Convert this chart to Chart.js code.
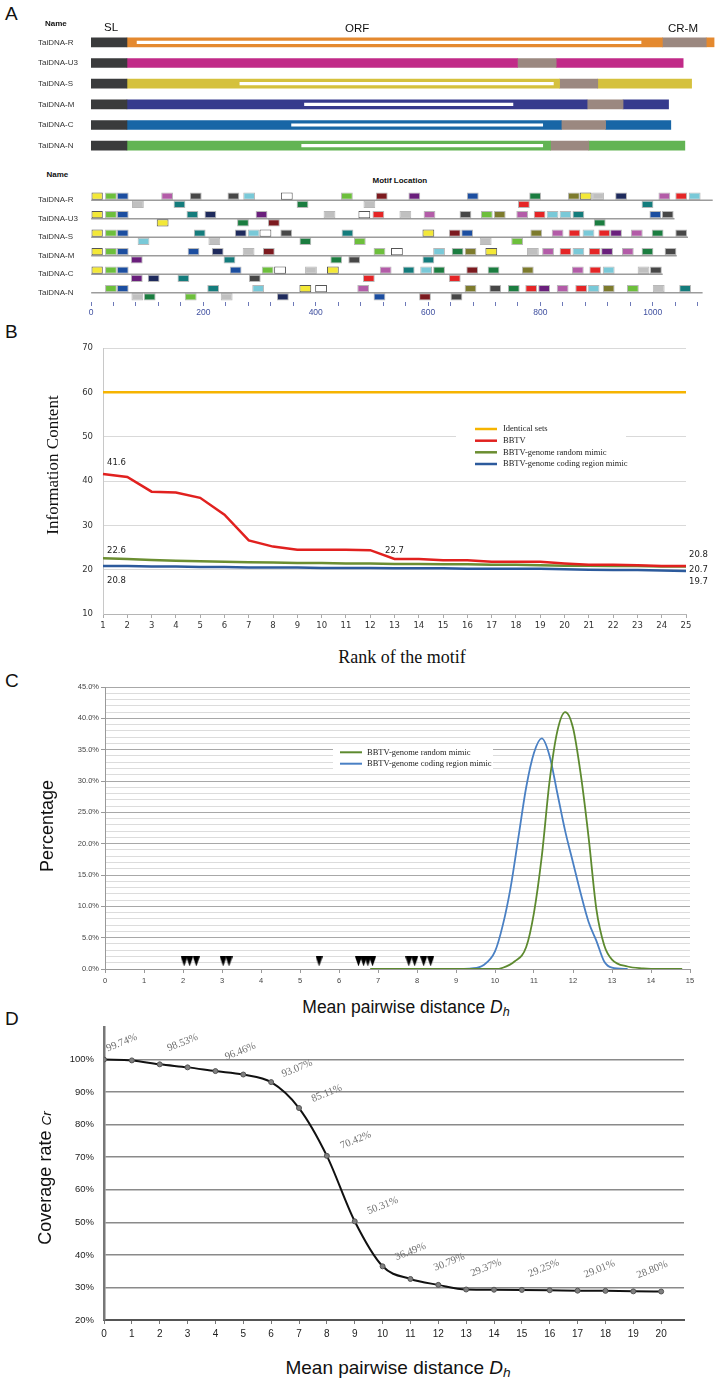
<!DOCTYPE html>
<html>
<head>
<meta charset="utf-8">
<script src="https://cdn.jsdelivr.net/npm/chart.js@4.4.0/dist/chart.umd.min.js"></script>
<style>
  body { margin: 0; background: #fff; }
  #page { position: relative; width: 718px; height: 1380px; overflow: hidden; background: #fff; font-family: "Liberation Sans", Arial, sans-serif; color: #111; }
  #page canvas { position: absolute; }
  .t { position: absolute; white-space: nowrap; line-height: 1; }
</style>
</head>
<body>
<div id="page">
  <canvas id="orfChart" width="680" height="124" style="left:38px;top:32px"></canvas>
  <canvas id="motifChart" width="680" height="131" style="left:38px;top:191px"></canvas>
  <canvas id="icChart" width="659" height="300" style="left:59px;top:338px"></canvas>
  <canvas id="distChart" width="663" height="307" style="left:55px;top:680px"></canvas>
  <canvas id="coverChart" width="664" height="322" style="left:54px;top:1020px"></canvas>
</div>
<script>
  // ---- Panel A: genome maps (positions in nt) ----
  const genomes = ['TaiDNA-R', 'TaiDNA-U3', 'TaiDNA-S', 'TaiDNA-M', 'TaiDNA-C', 'TaiDNA-N'];
  const slRange = [0, 64];
  const crmStart = [1017, 759, 834, 883, 837, 818];
  const crmEnd = [1095, 828, 902, 947, 916, 886];
  const genomeEnd = [1109, 1054, 1069, 1028, 1032, 1057];
  const innerStart = [82, null, 265, 380, 357, 375];
  const innerEnd = [979, null, 823, 751, 804, 804];
  const genomeColors = ['#e4892f', '#c12a88', '#d5c13d', '#363a8d', '#1866a6', '#62b453'];

  // motif boxes: [start nt, colour code], above / below the line
  const motifLen = 21;
  const motifLineEnd = [1106, 1038, 1062, 1042, 1017, 1088];
  const motifsUp = [
    [[0,'Y'],[25,'G'],[46,'B'],[125,'M'],[176,'K'],[243,'K'],[271,'L'],[338,'W'],[445,'G'],[507,'R'],[565,'P'],[669,'B'],[780,'D'],[849,'O'],[870,'Y'],[892,'A'],[933,'N'],[1010,'M'],[1040,'E'],[1064,'L']],
    [[0,'Y'],[25,'G'],[46,'B'],[170,'T'],[202,'N'],[293,'P'],[414,'A'],[476,'W'],[501,'E'],[549,'A'],[592,'M'],[656,'K'],[694,'G'],[717,'O'],[757,'M'],[788,'E'],[811,'L'],[834,'L'],[857,'T'],[994,'B'],[1016,'K']],
    [[0,'Y'],[25,'G'],[46,'B'],[183,'T'],[256,'N'],[279,'L'],[300,'W'],[337,'K'],[446,'T'],[590,'Y'],[637,'R'],[659,'B'],[782,'O'],[820,'M'],[850,'E'],[875,'L'],[903,'E'],[924,'P'],[961,'M'],[998,'D'],[1040,'K']],
    [[0,'Y'],[25,'G'],[46,'B'],[172,'B'],[215,'N'],[270,'A'],[306,'R'],[503,'G'],[534,'W'],[609,'L'],[642,'D'],[665,'O'],[702,'Y'],[776,'A'],[803,'M'],[834,'E'],[857,'L'],[886,'E'],[908,'P'],[945,'M'],[980,'D'],[1021,'K']],
    [[0,'Y'],[25,'G'],[46,'B'],[247,'B'],[304,'G'],[326,'W'],[381,'A'],[420,'Y'],[514,'M'],[555,'T'],[586,'L'],[609,'D'],[668,'R'],[706,'D'],[767,'O'],[856,'M'],[887,'E'],[911,'L'],[973,'A'],[995,'K']],
    [[25,'G'],[46,'B'],[207,'T'],[287,'L'],[371,'Y'],[399,'W'],[474,'M'],[665,'O'],[709,'K'],[742,'D'],[773,'E'],[796,'P'],[829,'M'],[862,'E'],[884,'L'],[911,'O'],[954,'G'],[1000,'A'],[1047,'T']]
  ];
  const motifsDown = [
    [[73,'A'],[147,'T'],[366,'D'],[485,'A'],[760,'E'],[980,'T']],
    [[117,'Y'],[260,'D'],[315,'R'],[895,'D']],
    [[83,'L'],[209,'A'],[371,'D'],[468,'G'],[692,'A'],[748,'G']],
    [[71,'P'],[236,'T'],[426,'D'],[458,'K'],[590,'T']],
    [[71,'P'],[101,'N'],[154,'T'],[281,'K'],[484,'E'],[637,'E']],
    [[72,'A'],[94,'D'],[167,'G'],[231,'A'],[331,'N'],[503,'B'],[584,'R'],[640,'K']]
  ];
  const motifColors = {
    Y: '#f3e837', G: '#6dbf3c', B: '#1c4ea0', M: '#b35ca8', K: '#474747', L: '#79c9d8', W: '#ffffff',
    D: '#1b7d40', T: '#147c7c', A: '#c0c0c0', P: '#6a1f7c', N: '#1e2a5c', R: '#7c1a1f', E: '#e52526', O: '#7d7b2d'
  };

  // ---- Panel B: information content by motif rank ----
  const ranks = ['1','2','3','4','5','6','7','8','9','10','11','12','13','14','15','16','17','18','19','20','21','22','23','24','25'];
  const identicalIC = [60,60,60,60,60,60,60,60,60,60,60,60,60,60,60,60,60,60,60,60,60,60,60,60,60];
  const bbtvIC = [41.6, 40.9, 37.6, 37.4, 36.2, 32.4, 26.6, 25.2, 24.5, 24.5, 24.5, 24.4, 22.4, 22.4, 22.1, 22.1, 21.8, 21.8, 21.8, 21.4, 21.1, 21.1, 21.0, 20.8, 20.8];
  const randomIC = [22.6, 22.4, 22.2, 22.0, 21.9, 21.8, 21.7, 21.6, 21.5, 21.5, 21.4, 21.4, 21.3, 21.3, 21.2, 21.2, 21.1, 21.1, 21.0, 20.9, 20.9, 20.8, 20.8, 20.7, 20.7];
  const codingIC = [20.8, 20.8, 20.7, 20.7, 20.6, 20.6, 20.5, 20.5, 20.5, 20.4, 20.4, 20.4, 20.3, 20.3, 20.3, 20.2, 20.2, 20.2, 20.2, 20.1, 20.0, 19.9, 19.9, 19.8, 19.7];
  const icSeriesNames = ['Identical sets', 'BBTV', 'BBTV-genome random mimic', 'BBTV-genome coding region mimic'];
  const icColors = ['#f6b400', '#e1211f', '#6b8e31', '#2c5a9c'];

  // ---- Panel C: distribution of mean pairwise distance ----
  const randomDh = [6.8, 9, 10, 10.2, 10.5, 10.8, 11, 11.2, 11.4, 11.6, 11.8, 12, 12.2, 12.4, 12.6, 12.8, 13, 13.4, 13.8, 14.2, 14.8];
  const randomPct = [0, 0, 0, 0.2, 1.2, 3.5, 9, 18, 30, 38, 41, 38.5, 31, 21, 9.5, 3.8, 1.5, 0.4, 0.1, 0, 0];
  const codingDh = [9, 9.4, 9.7, 10, 10.2, 10.4, 10.6, 10.8, 11, 11.2, 11.4, 11.6, 11.8, 12, 12.2, 12.4, 12.6, 12.8, 13, 13.4];
  const codingPct = [0, 0.1, 0.6, 2.8, 7, 13, 21, 29, 34.5, 36.8, 34, 28, 22, 17, 12, 7.5, 4.5, 1.2, 0.2, 0];
  const observedDh = [2.03, 2.17, 2.34, 3.03, 3.18, 5.49, 6.5, 6.63, 6.74, 6.86, 7.79, 7.94, 8.17, 8.35];
  const markerLevel = 1.2;

  // ---- Panel D: coverage rate ----
  const distance = [0,1,2,3,4,5,6,7,8,9,10,11,12,13,14,15,16,17,18,19,20];
  const coverage = [100, 99.74, 98.53, 97.6, 96.46, 95.4, 93.07, 85.11, 70.42, 50.31, 36.49, 32.6, 30.79, 29.37, 29.3, 29.25, 29.15, 29.01, 28.95, 28.80, 28.75];
  const labelledPoints = [1, 2, 4, 6, 7, 8, 9, 10, 12, 13, 15, 17, 19];
  const labelNudge = [[-24,-9],[9,-13],[11,-11],[12,-5],[14,-6],[15,-7],[14,-7],[14,-6],[-3,-14],[6,-13],[8,-13],[8,-13],[5,-13]];

  // ---------------- page text ----------------
  const page = document.getElementById('page');
  function txt(html, x, base, size, o) {
    o = o || {};
    const d = document.createElement('div');
    d.className = 't';
    d.innerHTML = html;
    d.style.fontSize = size + 'px';
    if (o.family) d.style.fontFamily = o.family;
    if (o.bold) d.style.fontWeight = 'bold';
    d.style.top = (base - 0.84 * size) + 'px';
    d.style.left = x + 'px';
    if (o.center) d.style.transform = 'translateX(-50%)';
    page.appendChild(d);
  }
  function vtxt(html, cx, cy, size, family) {
    const d = document.createElement('div');
    d.className = 't';
    d.innerHTML = html;
    d.style.fontSize = size + 'px';
    if (family) d.style.fontFamily = family;
    d.style.left = cx + 'px';
    d.style.top = cy + 'px';
    d.style.transform = 'translate(-50%,-50%) rotate(-90deg)';
    page.appendChild(d);
  }
  const serif = '"Liberation Serif", "Times New Roman", serif';
  txt('A', 5, 20, 19);
  txt('Name', 45, 26.5, 8, { bold: true });
  txt('SL', 104, 32, 11.5);
  txt('ORF', 345, 33, 11.5);
  txt('CR-M', 668, 33, 11.5);
  txt('Name', 46.5, 178, 8, { bold: true });
  txt('Motif Location', 372.5, 184, 8, { bold: true });
  txt('B', 5, 338, 19);
  vtxt('Information Content', 52, 465, 17, serif);
  txt('Rank of the motif', 402, 663, 18, { family: serif, center: true });
  txt('C', 5, 687, 19);
  vtxt('Percentage', 47, 826, 18);
  txt('Mean pairwise distance <i>D</i><i style="font-size:0.72em;position:relative;top:0.25em">h</i>', 406, 1014, 17.5, { center: true });
  txt('D', 5, 1025, 19);
  vtxt('Coverage rate <i style="font-size:0.75em">Cr</i>', 45, 1178, 18);
  txt('Mean pairwise distance <i>D</i><i style="font-size:0.72em;position:relative;top:0.25em">h</i>', 398, 1374, 19, { center: true });

  // ---------------- chart defaults ----------------
  Chart.defaults.animation = false;
  Chart.defaults.responsive = false;
  Chart.defaults.events = [];
  Chart.defaults.font.family = '"Liberation Sans", Arial, sans-serif';
  Chart.defaults.color = '#333';
  Chart.defaults.layout.autoPadding = false;
  Chart.defaults.plugins.legend.display = false;
  Chart.defaults.plugins.tooltip.enabled = false;

  // fixed axis sizes so the plot areas land where the figure has them
  const fixWidth = w => s => { s.width = w; s.paddingTop = 0; s.paddingBottom = 0; };
  const fixHeight = h => s => { s.height = h; };

  // Panel A top: genome organisation
  const segment = { grouped: false, barThickness: 9, borderWidth: 0, order: 1 };
  new Chart(document.getElementById('orfChart'), {
    type: 'bar',
    data: {
      labels: genomes,
      datasets: [
        Object.assign({ data: genomes.map(() => slRange), backgroundColor: '#3a3b3c' }, segment),
        Object.assign({ data: genomes.map((g, i) => [slRange[1], crmStart[i]]), backgroundColor: genomeColors }, segment),
        Object.assign({ data: genomes.map((g, i) => [crmStart[i], crmEnd[i]]), backgroundColor: '#9b8880' }, segment),
        Object.assign({ data: genomes.map((g, i) => [crmEnd[i], genomeEnd[i]]), backgroundColor: genomeColors }, segment),
        { data: genomes.map((g, i) => innerStart[i] === null ? null : [innerStart[i], innerEnd[i]]),
          backgroundColor: '#ffffff', grouped: false, barThickness: 2.5, borderWidth: 0, order: 0 }
      ]
    },
    options: {
      indexAxis: 'y',
      layout: { padding: 0 },
      scales: {
        x: { type: 'linear', min: 0, max: 1116, display: false },
        y: {
          grid: { display: false }, border: { display: false },
          ticks: { crossAlign: 'far', padding: 0, color: '#333', font: { size: 8 } },
          afterFit: fixWidth(53)
        }
      }
    }
  });

  // Panel A bottom: motif locations
  function boxes(list) {
    const out = [];
    list.forEach((row, i) => row.forEach(([s, c]) => out.push({ y: genomes[i], x: [s, s + motifLen], c: c })));
    return out;
  }
  const boxFill = ctx => (ctx.raw ? motifColors[ctx.raw.c] : '#000');
  const boxEdge = ctx => (ctx.raw && (ctx.raw.c === 'W' || ctx.raw.c === 'Y') ? '#555' : 'rgba(0,0,0,0.28)');
  const boxStyle = { backgroundColor: boxFill, borderColor: boxEdge, borderWidth: 1, borderSkipped: false,
                     categoryPercentage: 0.88, barPercentage: 0.9, order: 1 };
  new Chart(document.getElementById('motifChart'), {
    type: 'bar',
    data: {
      labels: genomes,
      datasets: [
        Object.assign({ data: boxes(motifsUp) }, boxStyle),
        Object.assign({ data: boxes(motifsDown) }, boxStyle),
        { data: genomes.map((g, i) => ({ y: g, x: [0, motifLineEnd[i]] })), backgroundColor: '#9c9c9c',
          grouped: false, barThickness: 1, borderWidth: 0, order: 2 }
      ]
    },
    options: {
      indexAxis: 'y',
      layout: { padding: 0 },
      scales: {
        x: {
          type: 'linear', min: 0, max: 1116,
          grid: { drawOnChartArea: false, tickLength: 4, color: '#6d79b8' },
          border: { display: false },
          ticks: { stepSize: 40, autoSkip: false, includeBounds: false, maxRotation: 0, minRotation: 0,
                   padding: 2, color: '#3f4f9f', font: { size: 8.5 },
                   callback: v => (v % 200 === 0 ? v : '') },
          afterFit: fixHeight(20)
        },
        y: {
          grid: { display: false }, border: { display: false },
          ticks: { crossAlign: 'far', padding: 0, color: '#333', font: { size: 8 } },
          afterFit: fixWidth(53)
        }
      }
    }
  });

  // Panel B
  const icLabels = [
    [1, 0, '41.6', 4, -11, 'left'], [2, 0, '22.6', 4, -7, 'left'], [3, 0, '20.8', 4, 15, 'left'],
    [1, 12, '22.7', 0, -8, 'center'],
    [1, 24, '20.8', 3, -11, 'left'], [2, 24, '20.7', 3, 3, 'left'], [3, 24, '19.7', 3, 11, 'left']
  ];
  const icExtras = {
    id: 'icExtras',
    beforeDatasetsDraw(chart) {
      const c = chart.ctx;
      const ox = 59, oy = 338;
      c.save();
      c.fillStyle = '#fff';
      c.fillRect(456 - ox, 420 - oy, 170, 50);
      const rows = [429, 440.7, 452.3, 464];
      c.font = '8.5px "Liberation Serif", serif';
      c.textBaseline = 'middle';
      icSeriesNames.forEach((name, i) => {
        c.strokeStyle = icColors[i];
        c.lineWidth = 2.5;
        c.beginPath();
        c.moveTo(475 - ox, rows[i] - oy);
        c.lineTo(497 - ox, rows[i] - oy);
        c.stroke();
        c.fillStyle = '#222';
        c.fillText(name, 503 - ox, rows[i] - oy);
      });
      c.restore();
    },
    afterDatasetsDraw(chart) {
      const c = chart.ctx;
      c.save();
      c.font = '8.5px "DejaVu Sans", sans-serif';
      c.fillStyle = '#222';
      c.textBaseline = 'middle';
      icLabels.forEach(([di, pi, s, dx, dy, al]) => {
        const p = chart.getDatasetMeta(di).data[pi];
        c.textAlign = al;
        c.fillText(s, p.x + dx, p.y + dy);
      });
      c.restore();
    }
  };
  new Chart(document.getElementById('icChart'), {
    type: 'line',
    data: {
      labels: ranks,
      datasets: [identicalIC, bbtvIC, randomIC, codingIC].map((d, i) => ({
        label: icSeriesNames[i], data: d, borderColor: icColors[i], borderWidth: 2.5, pointRadius: 0, tension: 0
      }))
    },
    options: {
      layout: { padding: { top: 10, right: 32, left: 0, bottom: 0 } },
      scales: {
        x: {
          offset: false,
          grid: { drawOnChartArea: false, tickLength: 4, color: '#aaa' },
          border: { color: '#b5b5b5' },
          ticks: { autoSkip: false, maxRotation: 0, padding: 3, color: '#333', font: { family: '"DejaVu Sans", sans-serif', size: 8.5 } },
          afterFit: fixHeight(24)
        },
        y: {
          min: 10, max: 70,
          grid: { color: '#d9d9d9', drawTicks: false },
          border: { color: '#c8c8c8' },
          ticks: { stepSize: 10, padding: 10, color: '#333', font: { family: '"DejaVu Sans", sans-serif', size: 8.5 } },
          afterFit: fixWidth(44)
        }
      }
    },
    plugins: [icExtras]
  });

  // Panel C
  const tri = document.createElement('canvas');
  tri.width = 7; tri.height = 10;
  const tc = tri.getContext('2d');
  tc.fillStyle = '#000';
  tc.beginPath(); tc.moveTo(0, 0); tc.lineTo(7, 0); tc.lineTo(3.5, 10); tc.closePath(); tc.fill();

  const distLegend = {
    id: 'distLegend',
    beforeDatasetsDraw(chart) {
      const c = chart.ctx;
      const ox = 55, oy = 680;
      c.save();
      c.fillStyle = '#fff';
      c.fillRect(333 - ox, 745 - oy, 160, 26);
      const names = ['BBTV-genome random mimic', 'BBTV-genome coding region mimic'];
      const cols = ['#5d8a2f', '#4a80c4'];
      const rows = [752.3, 763.7];
      c.font = '8.5px "Liberation Serif", serif';
      c.textBaseline = 'middle';
      names.forEach((n, i) => {
        c.strokeStyle = cols[i];
        c.lineWidth = 2;
        c.beginPath(); c.moveTo(340 - ox, rows[i] - oy); c.lineTo(362 - ox, rows[i] - oy); c.stroke();
        c.fillStyle = '#222';
        c.fillText(n, 367 - ox, rows[i] - oy);
      });
      c.restore();
    }
  };
  new Chart(document.getElementById('distChart'), {
    type: 'line',
    data: {
      datasets: [
        { data: observedDh.map(x => ({ x: x, y: markerLevel })), showLine: false, pointStyle: tri, pointRadius: 5, order: 0 },
        { data: randomDh.map((x, i) => ({ x: x, y: randomPct[i] })), borderColor: '#5d8a2f', borderWidth: 1.8,
          pointRadius: 0, cubicInterpolationMode: 'monotone', order: 1 },
        { data: codingDh.map((x, i) => ({ x: x, y: codingPct[i] })), borderColor: '#4a80c4', borderWidth: 1.8,
          pointRadius: 0, cubicInterpolationMode: 'monotone', order: 2 }
      ]
    },
    options: {
      layout: { padding: { top: 7, right: 28, left: 0, bottom: 0 } },
      scales: {
        x: {
          type: 'linear', min: 0, max: 15,
          grid: { drawOnChartArea: false, tickLength: 4, color: '#999' },
          border: { color: '#999' },
          ticks: { stepSize: 1, padding: 3, color: '#444', font: { size: 7.5 } },
          afterFit: fixHeight(18)
        },
        y: {
          min: 0, max: 45,
          grid: {
            color: c => (c.tick && c.tick.value % 5 === 0 ? '#a8a8a8' : '#dcdcdc'),
            tickColor: c => (c.tick && c.tick.value % 5 === 0 ? '#999' : 'rgba(0,0,0,0)'),
            tickLength: 4
          },
          border: { color: '#999' },
          ticks: { stepSize: 1, autoSkip: false, padding: 2, color: '#444', font: { size: 7.5 },
                   callback: v => (v % 5 === 0 ? v.toFixed(1) + '%' : '') },
          afterFit: fixWidth(50)
        }
      }
    },
    plugins: [distLegend]
  });

  // Panel D
  const coverLabels = {
    id: 'coverLabels',
    afterDatasetsDraw(chart) {
      const c = chart.ctx;
      const pts = chart.getDatasetMeta(0).data;
      c.save();
      c.font = '10.5px "Liberation Serif", serif';
      c.fillStyle = '#707070';
      c.textBaseline = 'alphabetic';
      labelledPoints.forEach((idx, k) => {
        const p = pts[idx];
        c.save();
        c.translate(p.x + labelNudge[k][0], p.y + labelNudge[k][1]);
        c.rotate(-22 * Math.PI / 180);
        c.fillText(coverage[idx].toFixed(2) + '%', 0, 0);
        c.restore();
      });
      c.restore();
    }
  };
  new Chart(document.getElementById('coverChart'), {
    type: 'line',
    data: {
      datasets: [{
        data: distance.map((x, i) => ({ x: x, y: coverage[i] })),
        borderColor: '#111', borderWidth: 2, cubicInterpolationMode: 'monotone',
        pointRadius: 2.5, pointBackgroundColor: '#808080', pointBorderColor: '#555', pointBorderWidth: 1
      }]
    },
    options: {
      layout: { padding: { top: 7, right: 34, left: 0, bottom: 0 } },
      scales: {
        x: {
          type: 'linear', min: 0, max: 20.82,
          grid: { drawOnChartArea: false, tickLength: 4, color: '#777' },
          border: { color: '#555', width: 2 },
          ticks: { stepSize: 1, includeBounds: false, padding: 4, color: '#222', font: { size: 10 } },
          afterFit: fixHeight(22)
        },
        y: {
          min: 20, max: 110,
          grid: {
            color: c => (c.tick && (c.tick.value === 110 || c.tick.value === 20) ? 'rgba(0,0,0,0)' : '#8a8a8a'),
            lineWidth: 1.5, drawTicks: false
          },
          border: { color: '#777', width: 2.5 },
          ticks: { stepSize: 10, padding: 10, color: '#222', font: { size: 9.5 },
                   callback: v => (v === 110 ? '' : v + '%') },
          afterFit: fixWidth(50)
        }
      }
    },
    plugins: [coverLabels]
  });
</script>
</body>
</html>
